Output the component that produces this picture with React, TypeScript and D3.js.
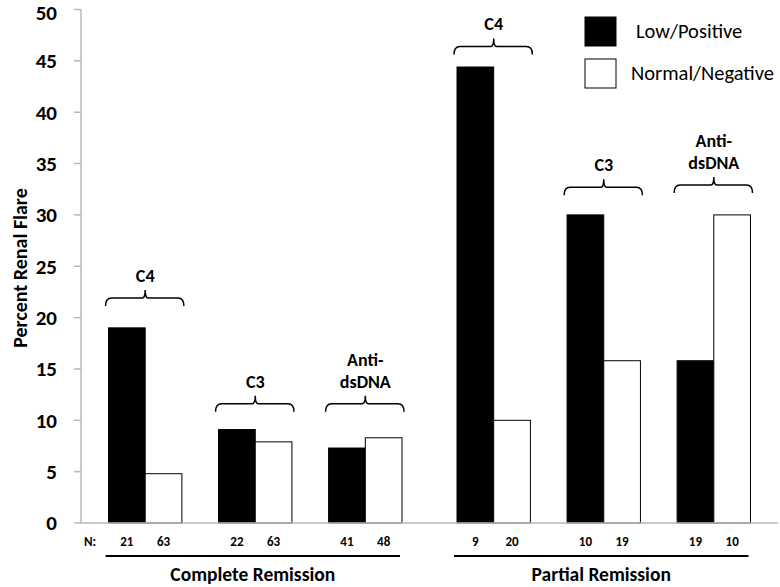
import React from "react";
import * as d3 from "d3";

const groupLabels = ["C4", "C3", "Anti-|dsDNA", "C4", "C3", "Anti-|dsDNA"];
const lowPositive = [19.0, 9.1, 7.3, 44.4, 30.0, 15.8];
const normalNegative = [4.8, 7.9, 8.3, 10.0, 15.8, 30.0];
const nLow = [21, 22, 41, 9, 10, 19];
const nNormal = [63, 63, 48, 20, 19, 10];
const bracketLevel = [21.9, 11.6, 11.6, 46.4, 32.7, 32.9];
const remissionLabels = ["Complete Remission", "Partial Remission"];
const yTicks = [0, 5, 10, 15, 20, 25, 30, 35, 40, 45, 50];
const legendLabels = ["Low/Positive", "Normal/Negative"];

const W = 780;
const H = 587;
const FONT = "Carlito, Lato, 'Open Sans', sans-serif";

export default function App() {
  const x = d3.scaleLinear().domain([0, 19]).range([81, 778]);
  const y = d3.scaleLinear().domain([0, 50]).range([523, 9.5]);
  const slot = x(1) - x(0);
  const groupStart = (i: number) => 0.75 + 3 * i + (i >= 3 ? 0.5 : 0);
  const axisColor = "#b8b8b8";

  return (
    <svg
      width={W}
      height={H}
      style={{ position: "absolute", left: 0, top: 0, background: "#fff" }}
      fontFamily={FONT}
    >
      {/* y axis */}
      <line x1={x(0)} x2={x(0)} y1={y(50)} y2={y(0)} stroke={axisColor} strokeWidth={1.5} />
      {yTicks.map((t) => (
        <g key={t}>
          <line x1={x(0) - 7} x2={x(0)} y1={y(t)} y2={y(t)} stroke={axisColor} strokeWidth={1.5} />
          <text
            x={57}
            y={y(t) + (t === 50 ? 3 : 0)}
            dy="0.35em"
            textAnchor="end"
            fontSize={21}
            fontWeight="bold"
            fill="#000"
          >
            {t}
          </text>
        </g>
      ))}
      <text
        transform={`translate(20,${268}) rotate(-90)`}
        textAnchor="middle"
        dy="0.35em"
        fontSize={20}
        fontWeight="bold"
      >
        Percent Renal Flare
      </text>

      {/* bars */}
      {lowPositive.map((v, i) => {
        const s = groupStart(i);
        return (
          <g key={"b" + i}>
            <rect x={x(s)} y={y(v)} width={slot} height={y(0) - y(v)} fill="#000" stroke="#000" strokeWidth={1} />
            <rect
              x={x(s + 1)}
              y={y(normalNegative[i])}
              width={slot}
              height={y(0) - y(normalNegative[i])}
              fill="#fff"
              stroke="#000"
              strokeWidth={1}
            />
          </g>
        );
      })}

      {/* x axis */}
      <line x1={x(0)} x2={x(19)} y1={y(0)} y2={y(0)} stroke={axisColor} strokeWidth={1.5} />

      {/* brackets */}
      {groupLabels.map((lab, i) => {
        const s = groupStart(i);
        const x0 = x(s) - 3;
        const x1 = x(s + 2) + 2;
        const xm = x(s + 1);
        const yb = y(bracketLevel[i]);
        const lines = lab.split("|");
        return (
          <g key={"br" + i}>
            <path
              d={`M${x0},${yb + 8} Q${x0},${yb} ${x0 + 6},${yb} L${xm - 3},${yb} Q${xm},${yb} ${xm},${yb - 8} Q${xm},${yb} ${xm + 3},${yb} L${x1 - 6},${yb} Q${x1},${yb} ${x1},${yb + 8}`}
              fill="none"
              stroke="#000"
              strokeWidth={1.5}
            />
            {lines.map((ln, k) => (
              <text
                key={k}
                x={xm}
                y={yb - 16 - (lines.length - 1 - k) * 22}
                textAnchor="middle"
                fontSize={18}
                fontWeight="bold"
              >
                {ln}
              </text>
            ))}
          </g>
        );
      })}

      {/* N row */}
      <text x={90} y={541} dy="0.35em" textAnchor="middle" fontSize={13} fontWeight="bold">
        N:
      </text>
      {nLow.map((n, i) => {
        const s = groupStart(i);
        return (
          <g key={"n" + i}>
            <text x={x(s + 0.5)} y={541} dy="0.35em" textAnchor="middle" fontSize={13} fontWeight="bold">
              {n}
            </text>
            <text x={x(s + 1.5)} y={541} dy="0.35em" textAnchor="middle" fontSize={13} fontWeight="bold">
              {nNormal[i]}
            </text>
          </g>
        );
      })}

      {/* remission underlines and labels */}
      {remissionLabels.map((lab, j) => {
        const a = x(groupStart(j * 3)) - 3;
        const b = x(groupStart(j * 3 + 2) + 2) - 2;
        return (
          <g key={lab}>
            <line x1={a} x2={b} y1={556} y2={556} stroke="#000" strokeWidth={2} />
            <text x={(a + b) / 2} y={574} dy="0.35em" textAnchor="middle" fontSize={19.5} fontWeight="bold">
              {lab}
            </text>
          </g>
        );
      })}

      {/* legend */}
      {legendLabels.map((lab, k) => (
        <g key={lab}>
          <rect
            x={585}
            y={17 + k * 42}
            width={31}
            height={29}
            fill={k === 0 ? "#000" : "#fff"}
            stroke="#000"
            strokeWidth={1}
          />
          <text x={k === 0 ? 636 : 631} y={31 + k * 42} dy="0.35em" fontSize={20.5} fill="#000">
            {lab}
          </text>
        </g>
      ))}
    </svg>
  );
}
